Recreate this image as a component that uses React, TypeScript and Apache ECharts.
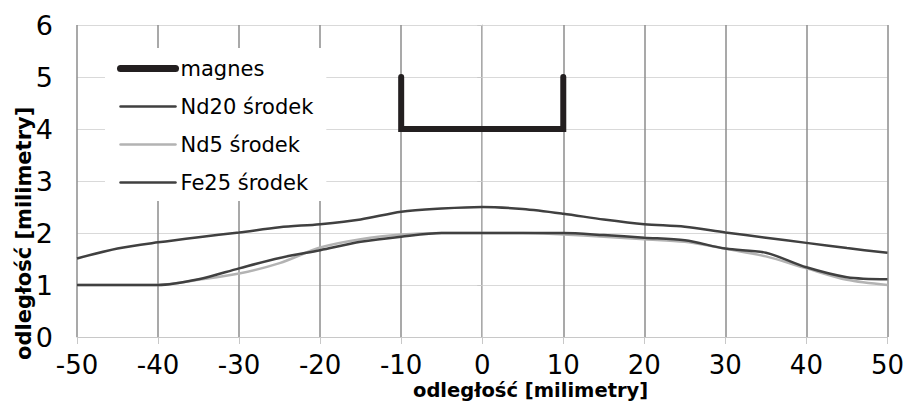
import React, { useEffect, useRef } from "react";
import * as echarts from "echarts";

const xPositions = [-50, -45, -40, -35, -30, -25, -20, -15, -10, -5, 0, 5, 10, 15, 20, 25, 30, 35, 40, 45, 50];
const nd20Values = [1.51, 1.7, 1.82, 1.92, 2.01, 2.11, 2.17, 2.26, 2.41, 2.47, 2.5, 2.46, 2.37, 2.26, 2.17, 2.12, 2.01, 1.91, 1.81, 1.71, 1.62];
const nd5Values = [1.0, 1.0, 1.0, 1.1, 1.22, 1.42, 1.72, 1.88, 1.97, 2.0, 2.0, 2.0, 1.97, 1.93, 1.88, 1.83, 1.7, 1.55, 1.32, 1.1, 1.0];
const fe25Values = [1.0, 1.0, 1.0, 1.11, 1.32, 1.52, 1.67, 1.83, 1.93, 2.0, 2.0, 2.0, 2.0, 1.96, 1.91, 1.86, 1.7, 1.62, 1.34, 1.15, 1.11];
const magnesX = [-10, -10, 10, 10];
const magnesY = [5, 4, 4, 5];
const seriesNames = ["magnes", "Nd20 środek", "Nd5 środek", "Fe25 środek"];
const seriesColors = ["#231f20", "#404040", "#b3b3b3", "#404040"];
const seriesWidths = [6, 2.5, 2.5, 2.5];
const axisTitle = "odległość [milimetry]";

const FONT = "DejaVu Sans";

export default function App() {
  const ref = useRef<HTMLDivElement>(null);
  useEffect(() => {
    if (!ref.current) return;
    const chart = echarts.init(ref.current, undefined, { renderer: "svg" });
    const pairs = (xs: number[], ys: number[]) => xs.map((x, i) => [x, ys[i]]);
    chart.setOption({
      animation: false,
      backgroundColor: "#fff",
      grid: { left: 77, right: 19, top: 25, bottom: 64 },
      xAxis: {
        type: "value",
        min: -50,
        max: 50,
        interval: 10,
        axisLine: { show: true, onZero: false, lineStyle: { color: "#c8c8c8", width: 1 } },
        axisTick: { show: true, length: 7, lineStyle: { color: "#c8c8c8" } },
        axisLabel: { fontSize: 26, lineHeight: 20, fontFamily: FONT, color: "#000", margin: 18 },
        splitLine: { show: true, lineStyle: { color: "#8c8c8c", width: 1.5 } },
      },
      yAxis: {
        type: "value",
        min: 0,
        max: 6,
        interval: 1,
        axisLine: { show: true, lineStyle: { color: "#c8c8c8", width: 1 } },
        axisTick: { show: true, length: 5, lineStyle: { color: "#c8c8c8" } },
        axisLabel: { fontSize: 27, fontFamily: FONT, color: "#000", margin: 24 },
        splitLine: { show: true, lineStyle: { color: "#d9d9d9", width: 1 } },
      },
      legend: {
        orient: "vertical",
        left: 105,
        top: 48,
        padding: [10, 13, 8, 12],
        backgroundColor: "#fff",
        itemWidth: 55,
        itemHeight: 14,
        itemGap: 17,
        data: seriesNames.map((name, i) => ({
          name,
          itemStyle: { opacity: 0 },
          lineStyle: { color: seriesColors[i], width: i === 0 ? 7 : 2.5, cap: "round" },
        })),
        textStyle: { fontSize: 21, fontFamily: FONT, color: "#000" },
      },
      graphic: [
        {
          type: "text",
          left: 413,
          top: 380,
          style: { text: axisTitle, font: `bold 19.5px "${FONT}"`, fill: "#000" },
        },
        {
          type: "text",
          x: 13,
          y: 360,
          rotation: Math.PI / 2,
          style: { text: axisTitle, font: `bold 21px "${FONT}"`, fill: "#000", textVerticalAlign: "top" },
        },
      ],
      series: [
        {
          name: seriesNames[0],
          type: "line",
          data: pairs(magnesX, magnesY),
          symbol: "none",
          lineStyle: { color: seriesColors[0], width: seriesWidths[0], cap: "round", join: "miter" },
          itemStyle: { color: seriesColors[0] },
          z: 5,
        },
        {
          name: seriesNames[1],
          type: "line",
          data: pairs(xPositions, nd20Values),
          symbol: "none",
          smooth: 0.3,
          lineStyle: { color: seriesColors[1], width: seriesWidths[1] },
          itemStyle: { color: seriesColors[1] },
        },
        {
          name: seriesNames[2],
          type: "line",
          data: pairs(xPositions, nd5Values),
          symbol: "none",
          smooth: 0.3,
          lineStyle: { color: seriesColors[2], width: seriesWidths[2] },
          itemStyle: { color: seriesColors[2] },
        },
        {
          name: seriesNames[3],
          type: "line",
          data: pairs(xPositions, fe25Values),
          symbol: "none",
          smooth: 0.3,
          lineStyle: { color: seriesColors[3], width: seriesWidths[3] },
          itemStyle: { color: seriesColors[3] },
        },
      ],
    });
    return () => chart.dispose();
  }, []);
  return (
    <div
      ref={ref}
      style={{ position: "fixed", left: 0, top: 0, width: 907, height: 401, background: "#fff" }}
    />
  );
}
